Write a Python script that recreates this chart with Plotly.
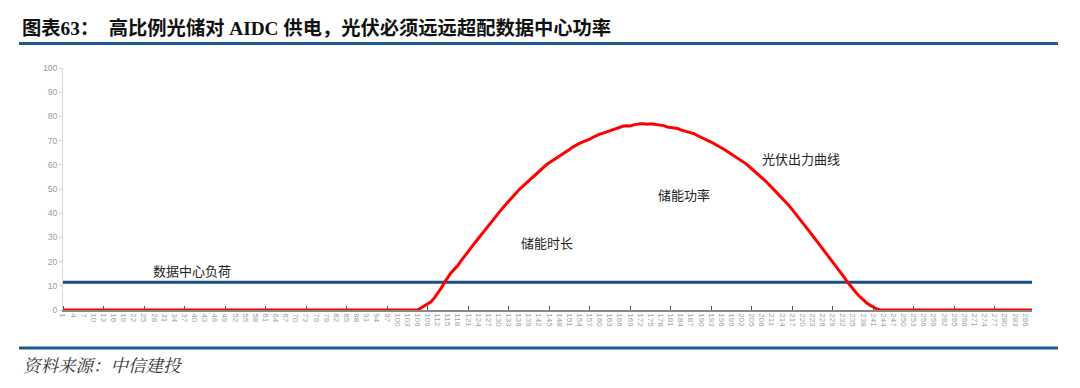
import plotly.graph_objects as go

# ---- data ----
categories = list(range(1, 289))
pv_zero_before = [0.0] * 106          # categories 1..106
pv_rise_fall = [                       # categories 107..242
    0.8, 1.6, 2.5, 3.4, 5.0, 6.8, 9.0, 11.4, 13.5, 15.5,
    17.0, 18.5, 20.5, 22.5, 24.2, 26.0, 27.8, 29.6, 31.3, 33.2,
    35.0, 36.8, 38.6, 40.2, 41.8, 43.4, 45.0, 46.5, 48.2, 49.6,
    50.9, 52.2, 53.5, 54.9, 56.2, 57.4, 58.6, 59.8, 60.8, 61.7,
    62.5, 63.3, 64.2, 65.3, 66.3, 67.3, 68.2, 68.9, 69.5, 70.0,
    70.6, 71.4, 72.1, 72.7, 73.1, 73.6, 74.2, 74.6, 75.0, 75.6,
    76.0, 76.1, 76.0, 76.5, 76.8, 77.0, 77.0, 76.8, 77.0, 76.8,
    76.5, 76.6, 76.2, 75.6, 75.4, 75.4, 75.0, 74.4, 74.0, 73.8,
    73.4, 72.8, 72.0, 71.4, 70.8, 70.2, 69.4, 68.6, 67.9, 67.0,
    66.2, 65.3, 64.4, 63.6, 62.7, 61.8, 60.7, 59.6, 58.4, 57.2,
    56.0, 54.8, 53.4, 52.0, 50.6, 49.2, 47.8, 46.3, 44.8, 43.2,
    41.5, 39.8, 38.0, 36.2, 34.4, 32.6, 30.8, 29.0, 27.2, 25.3,
    23.5, 21.6, 19.8, 17.9, 16.0, 14.2, 12.2, 10.3, 8.6, 7.0,
    5.5, 4.1, 3.0, 2.0, 1.2, 0.5,
]
pv_zero_after = [0.0] * 46            # categories 243..288
pv_output = pv_zero_before + pv_rise_fall + pv_zero_after
dc_load = [11.5] * 288

x_tick_vals = list(range(1, 289, 3))
x_tick_text = [str(v) for v in x_tick_vals]
y_tick_vals = list(range(0, 101, 10))

annotations_text = ["数据中心负荷", "储能时长", "储能功率", "光伏出力曲线"]
annotations_x = [39.2, 144.4, 185.0, 219.6]
annotations_y = [16.5, 27.7, 47.9, 62.4]

title_text = "图表63：  高比例光储对 AIDC 供电，光伏必须远远超配数据中心功率"
source_text = "资料来源：中信建投"

# ---- figure ----
fig = go.Figure()
fig.add_trace(go.Scatter(x=categories, y=dc_load, mode="lines",
                         line=dict(color="#1b4f80", width=3),
                         hoverinfo="skip", showlegend=False))
fig.add_trace(go.Scatter(x=categories, y=pv_output, mode="lines",
                         line=dict(color="#ff0000", width=3),
                         hoverinfo="skip", showlegend=False))

cjk = "Noto Sans CJK SC, Noto Sans, sans-serif"
for t, ax_, ay_ in zip(annotations_text, annotations_x, annotations_y):
    fig.add_annotation(x=ax_, y=ay_, text=t, showarrow=False,
                       font=dict(family=cjk, size=13, color="#222222"),
                       xanchor="center", yanchor="middle")

L, R, T, B = 63, 48, 68, 78
W, H = 1080, 388
pw, ph = W - L - R, H - T - B

def px_x(px):
    return (px - L) / pw

def px_y(py):
    return (H - B - py) / ph

# title
fig.add_annotation(xref="paper", yref="paper", x=px_x(20), y=px_y(28),
                   text="<b>" + title_text + "</b>", showarrow=False,
                   xanchor="left", yanchor="middle",
                   font=dict(family="Liberation Serif, Noto Sans CJK SC", size=19.3, color="#111111"))
# source
fig.add_annotation(xref="paper", yref="paper", x=px_x(21), y=px_y(366),
                   text="<i>" + source_text + "</i>", showarrow=False,
                   xanchor="left", yanchor="middle",
                   font=dict(family="Liberation Serif, Noto Serif CJK SC, Noto Sans CJK SC", size=17.5, color="#333333"))
# rules
for ry in (43.5, 348):
    fig.add_shape(type="line", xref="paper", yref="paper",
                  x0=px_x(19), x1=px_x(1058), y0=px_y(ry), y1=px_y(ry),
                  line=dict(color="#1d5a91", width=3))

fig.update_layout(
    width=W, height=H,
    margin=dict(l=L, r=R, t=T, b=B),
    paper_bgcolor="white", plot_bgcolor="white",
    showlegend=False,
    xaxis=dict(range=[1, 288], tickmode="array", tickvals=x_tick_vals, ticktext=x_tick_text,
               tickangle=90, tickfont=dict(family="Liberation Sans, Arial", size=8, color="#a0a0a0"),
               ticks="", showgrid=False, zeroline=False,
               showline=True, linecolor="#888888", linewidth=1.5,
               minor=dict(tick0=1, dtick=12, ticks="inside", ticklen=4, tickcolor="#555555", showgrid=False)),
    yaxis=dict(range=[0, 100], tickvals=y_tick_vals, ticks="outside", ticklen=3, tickcolor="#d0d0d0",
               tickfont=dict(family="Liberation Sans, Arial", size=8.5, color="#9a9a9a"),
               showgrid=False, zeroline=False, showline=True, linecolor="#d9d9d9", linewidth=1),
)

fig.write_html("out.html", config={"displayModeBar": False},
               post_script="document.body.style.margin='0';document.body.style.overflow='hidden';")
